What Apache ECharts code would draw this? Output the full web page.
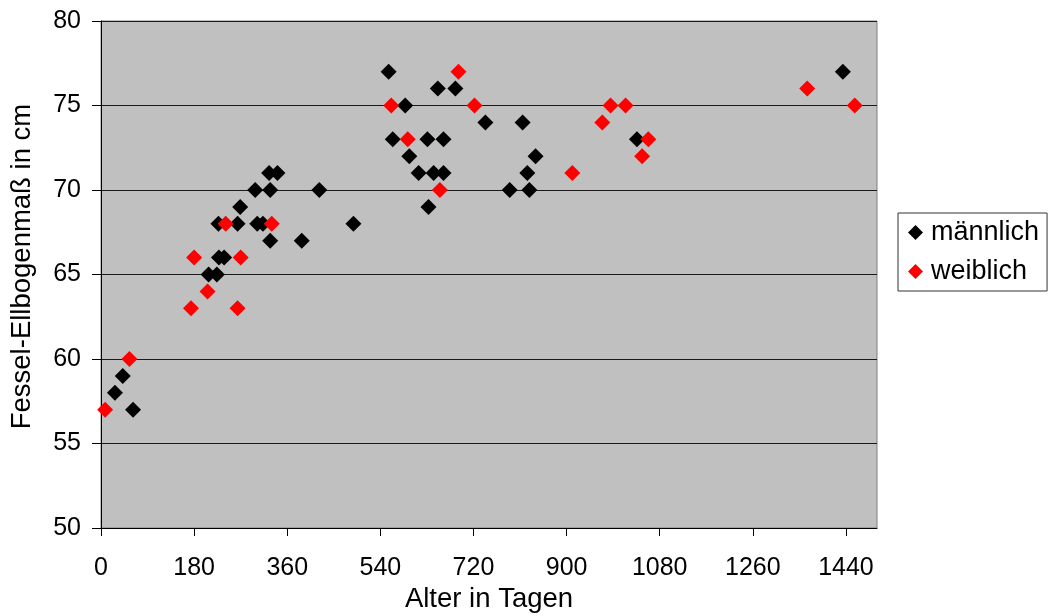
<!DOCTYPE html>
<html>
<head>
<meta charset="utf-8">
<script src="https://cdn.jsdelivr.net/npm/echarts@6/dist/echarts.min.js"></script>
<style>
  html, body { margin: 0; padding: 0; background: #fff; }
  #chart { width: 1050px; height: 616px; }
</style>
</head>
<body>
<div id="chart"></div>
<script>
// Alter in Tagen / Fessel-Ellbogenmaß in cm
const maleAge = [42, 27, 62, 325, 341, 298, 327, 422, 269, 227, 264, 302, 313, 488, 327, 388,
  228, 238, 208, 224, 596, 614, 643, 662, 633, 556, 651, 685, 588, 743, 815, 564, 631, 662,
  840, 824, 790, 828, 1036, 1434];
const maleSize = [59, 58, 57, 71, 71, 70, 70, 70, 69, 68, 68, 68, 68, 68, 67, 67,
  66, 66, 65, 65, 72, 71, 71, 71, 69, 77, 76, 76, 75, 74, 74, 73, 73, 73,
  72, 71, 70, 70, 73, 77];

const femaleAge = [55, 8, 241, 330, 180, 270, 206, 174, 264, 655, 691, 561, 722, 593,
  985, 1014, 969, 1058, 1046, 911, 1365, 1457];
const femaleSize = [60, 57, 68, 68, 66, 66, 64, 63, 63, 70, 77, 75, 75, 73,
  75, 75, 74, 73, 72, 71, 76, 75];

const xTicks = [0, 180, 360, 540, 720, 900, 1080, 1260, 1440];
const seriesNames = ['männlich', 'weiblich'];

const pairs = (xs, ys) => xs.map((x, i) => [x, ys[i]]);

const FONT = 'Liberation Sans, Arial, sans-serif';
const chart = echarts.init(document.getElementById('chart'), null, { renderer: 'canvas' });

chart.setOption({
  animation: false,
  backgroundColor: '#ffffff',
  textStyle: { fontFamily: FONT, color: '#000' },
  grid: {
    left: 101, right: 173, top: 21, bottom: 88,
    outerBoundsMode: 'none',
    containLabel: false,
    show: true,
    backgroundColor: '#c0c0c0',
    borderColor: '#808080',
    borderWidth: 1
  },
  legend: {
    orient: 'vertical',
    left: 898, top: 213,
    padding: [6, 8, 6, 10],
    itemGap: 12,
    itemWidth: 15, itemHeight: 15,
    itemStyle: { borderWidth: 0, opacity: 1 },
    borderColor: '#333',
    borderWidth: 1,
    backgroundColor: '#fff',
    textStyle: { fontFamily: FONT, fontSize: 27, color: '#000', lineHeight: 27, padding: [0, 0, 0, 3] },
    data: seriesNames.map(n => ({ name: n, icon: 'diamond' }))
  },
  xAxis: {
    type: 'value',
    min: 0, max: 1500, interval: 180,
    name: 'Alter in Tagen',
    nameLocation: 'middle',
    nameGap: 57,
    nameTextStyle: { fontFamily: FONT, fontSize: 27.5, color: '#000' },
    axisLine: { show: true, onZero: false, lineStyle: { color: '#000', width: 1 } },
    axisTick: { show: true, inside: false, length: 8, lineStyle: { color: '#000' }, customValues: xTicks },
    axisLabel: {
      margin: 28, fontFamily: FONT, fontSize: 25, color: '#000',
      customValues: xTicks,
      formatter: v => String(v)
    },
    splitLine: { show: false }
  },
  yAxis: {
    type: 'value',
    min: 50, max: 80, interval: 5,
    name: 'Fessel-Ellbogenmaß in cm',
    nameLocation: 'middle',
    nameGap: 65,
    nameTextStyle: { fontFamily: FONT, fontSize: 27.5, color: '#000', padding: [0, 0, 0, 16] },
    axisLine: { show: true, lineStyle: { color: '#000', width: 1 } },
    axisTick: { show: true, inside: false, length: 9, lineStyle: { color: '#000' } },
    axisLabel: { margin: 20, fontFamily: FONT, fontSize: 25, color: '#000', formatter: v => String(v) },
    splitLine: { show: true, lineStyle: { color: '#1a1a1a', width: 1 } }
  },
  series: [
    {
      name: seriesNames[0],
      type: 'scatter',
      symbol: 'diamond',
      symbolSize: 16,
      itemStyle: { color: '#000000', opacity: 1 },
      data: pairs(maleAge, maleSize)
    },
    {
      name: seriesNames[1],
      type: 'scatter',
      symbol: 'diamond',
      symbolSize: 16,
      itemStyle: { color: '#ff0000', opacity: 1 },
      data: pairs(femaleAge, femaleSize)
    }
  ]
});
</script>
</body>
</html>
